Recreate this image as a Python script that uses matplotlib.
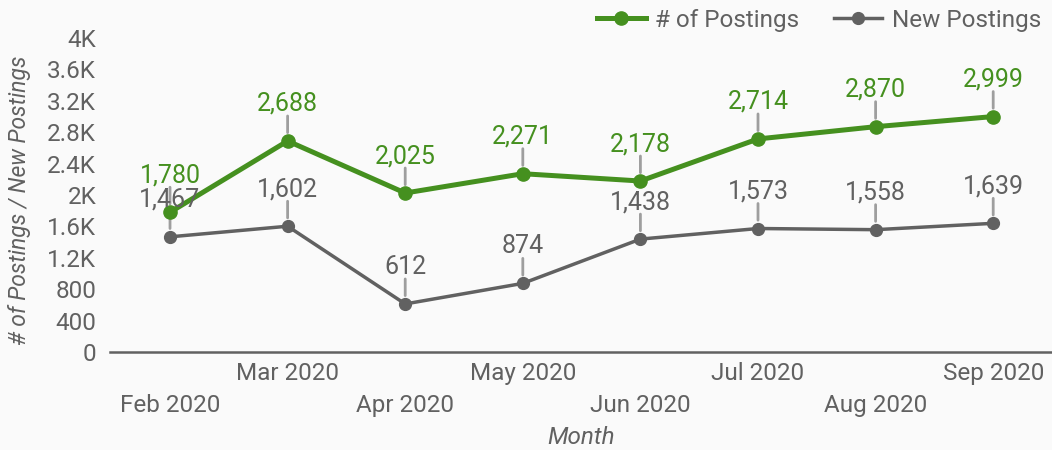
import matplotlib
matplotlib.use("Agg")
import matplotlib.pyplot as plt
from matplotlib.ticker import FuncFormatter

months = ["Feb 2020", "Mar 2020", "Apr 2020", "May 2020", "Jun 2020", "Jul 2020", "Aug 2020", "Sep 2020"]
postings = [1780, 2688, 2025, 2271, 2178, 2714, 2870, 2999]
new_postings = [1467, 1602, 612, 874, 1438, 1573, 1558, 1639]
yticks = [0, 400, 800, 1200, 1600, 2000, 2400, 2800, 3200, 3600, 4000]

GREEN = "#45901f"
GRAY = "#616161"
LEADER = "#9e9e9e"
BG = "#fafafa"

plt.rcParams['font.family'] = ['Roboto', 'DejaVu Sans']

fig = plt.figure(figsize=(10.52, 4.5), dpi=100, facecolor=BG)
ax = fig.add_axes([0.1046, 0.2178, 0.8954, 0.6978], facecolor=BG)

x = list(range(len(months)))
ax.plot(x, new_postings, color=GRAY, lw=2.5, marker='o', ms=8.5, label="New Postings", zorder=3)
ax.plot(x, postings, color=GREEN, lw=3.6, marker='o', ms=9.5, label="# of Postings", zorder=4)

def fmt_k(v, pos):
    if v >= 1000:
        s = f"{v/1000:.1f}".rstrip('0').rstrip('.')
        return s + "K"
    return f"{int(v)}"

ax.set_ylim(0, 4000)
ax.set_yticks(yticks)
ax.yaxis.set_major_formatter(FuncFormatter(fmt_k))
ax.set_xlim(-0.51, 7.5)
ax.set_xticks(x)
ax.set_xticklabels([])

for s in ['top', 'right', 'left']:
    ax.spines[s].set_visible(False)
ax.spines['bottom'].set_color(GRAY)
ax.spines['bottom'].set_linewidth(1.8)
ax.tick_params(axis='both', length=0, colors=GRAY, labelsize=17.5)
ax.tick_params(axis='y', pad=10)

# staggered x labels
for i, m in enumerate(months):
    yoff = -22 if i % 2 == 1 else -54
    ax.annotate(m, xy=(i, 0), xytext=(0, yoff), textcoords='offset pixels',
                ha='center', va='center', color=GRAY, fontsize=17.5, annotation_clip=False)

def label(series, color):
    for i, v in enumerate(series):
        ax.annotate('', xy=(i, v), xytext=(0, 25), textcoords='offset pixels',
                    arrowprops=dict(arrowstyle='-', color=LEADER, lw=2, shrinkA=0, shrinkB=6),
                    annotation_clip=False, zorder=2)
        ax.annotate(f"{v:,}", xy=(i, v), xytext=(0, 30), textcoords='offset pixels',
                    ha='center', va='baseline', color=color, fontsize=18, annotation_clip=False, zorder=5)

label(new_postings, GRAY)
label(postings, GREEN)

fig.text(20/1052, 1 - 200/450, "# of Postings / New Postings", fontstyle='italic', color=GRAY,
         fontsize=16.5, rotation=90, ha='center', va='center')
fig.text(581/1052, 1 - 437/450, "Month", fontstyle='italic', color=GRAY, fontsize=17.5, ha='center', va='center')

handles, labels = ax.get_legend_handles_labels()
leg = fig.legend(handles[::-1], labels[::-1], loc='center right', bbox_to_anchor=(1.0 - 6/1052, 1 - 20/450),
                 ncol=2, frameon=False, fontsize=17.5, labelcolor=GRAY, handlelength=2.0,
                 columnspacing=1.4, handletextpad=0.4, borderaxespad=0, borderpad=0.2)

fig.savefig("out.png", dpi=100, facecolor=BG)
